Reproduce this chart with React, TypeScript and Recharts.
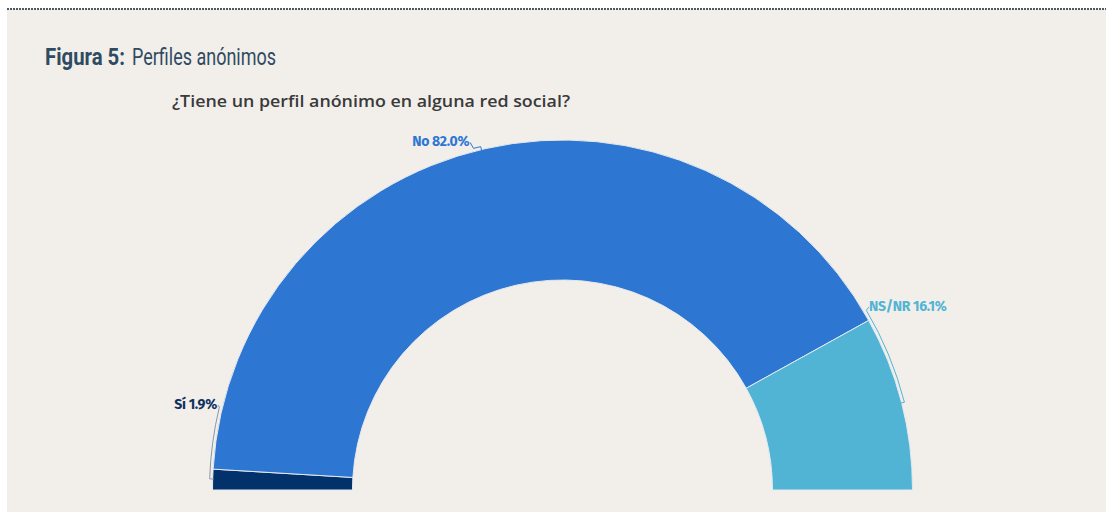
import React from 'react';
import { PieChart, Pie, Cell } from 'recharts';

const categories = ['Sí', 'No', 'NS/NR'];
const values = [1.9, 82.0, 16.1];
const colors = ['#03316b', '#2d77d3', '#52b4d4'];
const labelColors = ['#0f2f5e', '#2d77d3', '#52b4d4'];
const bracketColors = ['#8a97a6', '#2d77d3', '#52b4d4'];

const title = 'Figura 5:';
const titleRest = 'Perfiles anónimos';
const subtitle = '¿Tiene un perfil anónimo en alguna red social?';

const data = categories.map((name, i) => ({ name, value: values[i] }));

// label placement (style): angle in degrees, radius offset, anchor, bracket arc angles
const labelStyle: Record<string, { a: number; dr: number; anchor: 'start' | 'end'; b1: number; b2: number }> = {
  'Sí': { a: 166.8, dr: 5, anchor: 'end', b1: 166.4, b2: 178.2 },
  'No': { a: 105.2, dr: 6, anchor: 'end', b1: 104.6, b2: 103.4 },
  'NS/NR': { a: 30.3, dr: 5, anchor: 'start', b1: 30.6, b2: 14.4 },
};

const RAD = Math.PI / 180;
const pt = (cx: number, cy: number, r: number, a: number) => ({
  x: cx + r * Math.cos(a * RAD),
  y: cy - r * Math.sin(a * RAD),
});

const renderLabel = (props: any) => {
  const { cx, cy, outerRadius, name, value, index } = props;
  const s = labelStyle[name];
  if (!s) return null;
  const tp = pt(cx, cy, outerRadius + s.dr, s.a);
  const rb = outerRadius + 3;
  const p1 = pt(cx, cy, rb, s.b1);
  const p2 = pt(cx, cy, rb, s.b2);
  const p3 = pt(cx, cy, rb - 4, s.b2);
  const sweep = s.b2 > s.b1 ? 0 : 1;
  const cx0 = s.anchor === 'end' ? tp.x + 1 : tp.x;
  const d = `M ${cx0} ${tp.y - 4} L ${p1.x} ${p1.y} A ${rb} ${rb} 0 0 ${sweep} ${p2.x} ${p2.y} L ${p3.x} ${p3.y}`;
  return (
    <g key={`lbl-${index}`}>
      <path d={d} fill="none" stroke={bracketColors[index]} strokeWidth={1} />
      <text
        x={tp.x}
        y={tp.y}
        textAnchor={s.anchor}
        fill={labelColors[index]}
        fontFamily="'Fira Sans', 'Open Sans', 'Noto Sans', sans-serif"
        fontWeight={700}
        fontSize={14}
        letterSpacing={-0.3}
      >
        {`${name} ${value.toFixed(1)}%`}
      </text>
    </g>
  );
};

export default function App() {
  return (
    <div style={{ position: 'relative', width: 1109, height: 512, background: '#ffffff', overflow: 'hidden' }}>
      <style>{`body{margin:0;overflow:hidden}`}</style>
      <div
        style={{
          position: 'absolute',
          left: 7,
          top: 9,
          width: 1099,
          height: 503,
          background: '#f2efeb',
        }}
      />
      <div
        style={{
          position: 'absolute',
          left: 7,
          top: 8,
          width: 1099,
          height: 2,
          backgroundImage: 'repeating-linear-gradient(90deg, #4d5a66 0px, #4d5a66 2px, transparent 2px, transparent 3px)',
        }}
      />
      <div style={{ position: 'absolute', left: 0, top: 0 }}>
        <PieChart width={1109} height={512} margin={{ top: 0, right: 0, bottom: 0, left: 0 }}>
          <text
            x={45}
            y={65}
            fill="#2f4b62"
            fontFamily="'Roboto', 'Liberation Sans', sans-serif"
            fontSize={23}
            fontWeight={700}
            textLength={80}
            lengthAdjust="spacingAndGlyphs"
          >
            {title}
          </text>
          <text
            x={132}
            y={65}
            fill="#2f4b62"
            fontFamily="'Roboto', 'Liberation Sans', sans-serif"
            fontSize={23}
            fontWeight={400}
            textLength={144}
            lengthAdjust="spacingAndGlyphs"
          >
            {titleRest}
          </text>
          <text
            x={172}
            y={107}
            fill="#3a3a3a"
            fontFamily="'Open Sans', 'Noto Sans', sans-serif"
            fontWeight={600}
            fontSize={16.5}
            textLength={398}
            lengthAdjust="spacingAndGlyphs"
          >
            {subtitle}
          </text>
          <Pie
            data={data}
            dataKey="value"
            nameKey="name"
            cx={562.5}
            cy={490}
            startAngle={180}
            endAngle={0}
            innerRadius={210}
            outerRadius={350}
            stroke="#e4e9ef"
            strokeWidth={1}
            label={renderLabel}
            labelLine={false}
            isAnimationActive={false}
          >
            {data.map((d, i) => (
              <Cell key={d.name} fill={colors[i]} />
            ))}
          </Pie>
        </PieChart>
      </div>
    </div>
  );
}
